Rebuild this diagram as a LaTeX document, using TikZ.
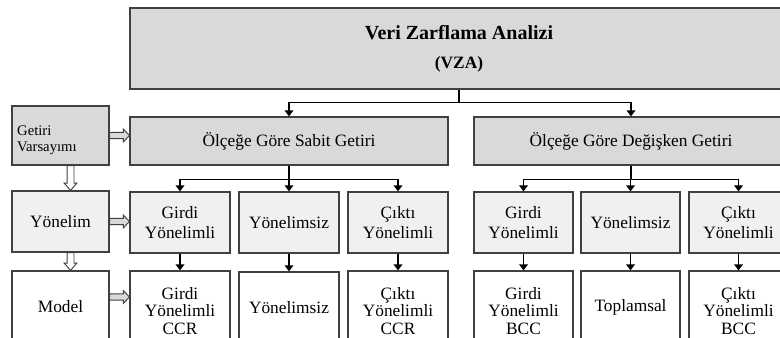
\documentclass[tikz,border=0pt]{standalone}
\usepackage{fontspec}
\setmainfont{Liberation Serif}
\usetikzlibrary{arrows.meta,positioning,calc}

\definecolor{headgray}{HTML}{D9D9D9}
\definecolor{subgray}{HTML}{F0F0F0}
\definecolor{rim}{HTML}{404040}

\tikzset{
	box/.style={draw=rim, line width=0.9pt, inner sep=0pt, align=center},
	headbox/.style={box, fill=headgray, font=\fontsize{13}{14.5}\selectfont},
	subbox/.style={box, fill=subgray, font=\fontsize{13}{14.5}\selectfont},
	leafbox/.style={box, fill=white, font=\fontsize{13}{13}\selectfont},
	arr/.style={line width=1pt, -{Triangle[length=4.5pt,width=6.5pt]}},
	fatarrow/.style={draw=rim, line width=0.7pt, fill=headgray, line join=miter}
}

% kalin ok: yatay ve dikey
\newcommand{\fatright}[2]{\draw[fatarrow] let \p1=(#1), \p2=(#2) in
	(\x1,\y1+2.4pt) -- (\x2-4.5pt,\y1+2.4pt) -- (\x2-4.5pt,\y1+4.8pt) -- (\x2,\y1)
	-- (\x2-4.5pt,\y1-4.8pt) -- (\x2-4.5pt,\y1-2.4pt) -- (\x1,\y1-2.4pt) -- cycle;}
\newcommand{\fatdown}[2]{\draw[fatarrow, fill=white] let \p1=(#1), \p2=(#2) in
	(\x1-2.6pt,\y1) -- (\x1-2.6pt,\y2+5.5pt) -- (\x1-4.8pt,\y2+5.5pt) -- (\x1,\y2)
	-- (\x1+4.8pt,\y2+5.5pt) -- (\x1+2.6pt,\y2+5.5pt) -- (\x1+2.6pt,\y1) -- cycle;}

\begin{document}
\begin{tikzpicture}[x=0.75pt, y=-0.75pt]
	\clip (0,0) rectangle (780,338);
	
	% ust kutu
	\node[headbox, minimum width=493.5pt, minimum height=60.75pt, font=\bfseries] (vza) at (459,48.5)
		{{\fontsize{15}{24}\selectfont Veri Zarflama Analizi}\\[9.5pt]{\fontsize{13}{15}\selectfont (VZA)}};
	
	% getiri varsayimi
	\node[headbox, minimum width=72.75pt, minimum height=44.25pt, text width=65pt, align=left,
		font=\fontsize{11}{12}\selectfont] (gv) at (60.5,135.5) {\rule{0pt}{14pt}Getiri\\Varsayımı};
	\node[headbox, minimum width=238.5pt, minimum height=36pt] (osg) at (289,141) {Ölçeğe Göre Sabit Getiri};
	\node[headbox, minimum width=235.5pt, minimum height=36pt] (odg) at (631,141) {Ölçeğe Göre Değişken Getiri};
	
	% yonelim
	\node[subbox, minimum width=72.75pt, minimum height=45.75pt] (yon) at (60.5,221.5) {Yönelim};
	\node[subbox, minimum width=75pt, minimum height=45.75pt] (gy1) at (180,222.5) {Girdi\\Yönelimli};
	\node[subbox, minimum width=75pt, minimum height=45.75pt] (ys1) at (289,222.5) {Yönelimsiz};
	\node[subbox, minimum width=75pt, minimum height=45.75pt] (cy1) at (398,222.5) {Çıktı\\Yönelimli};
	\node[subbox, minimum width=74.25pt, minimum height=45.75pt] (gy2) at (523.5,222.5) {Girdi\\Yönelimli};
	\node[subbox, minimum width=74.25pt, minimum height=45.75pt] (ys2) at (630.5,222.5) {Yönelimsiz};
	\node[subbox, minimum width=74.25pt, minimum height=45.75pt] (cy2) at (738.5,222.5) {Çıktı\\Yönelimli};
	
	% model
	\node[leafbox, minimum width=72.75pt, minimum height=54pt] (mdl) at (60.5,307) {Model};
	\node[leafbox, minimum width=75pt, minimum height=60pt] (gccr) at (180,311) {Girdi\\Yönelimli\\CCR};
	\node[leafbox, minimum width=75pt, minimum height=54pt] (yccr) at (289,308) {Yönelimsiz};
	\node[leafbox, minimum width=75pt, minimum height=60pt] (cccr) at (398,311) {Çıktı\\Yönelimli\\CCR};
	\node[leafbox, minimum width=74.25pt, minimum height=60pt] (gbcc) at (523.5,311) {Girdi\\Yönelimli\\BCC};
	\node[leafbox, minimum width=74.25pt, minimum height=54pt] (tbcc) at (630.5,307) {Toplamsal};
	\node[leafbox, minimum width=74.25pt, minimum height=60pt] (cbcc) at (738.5,311) {Çıktı\\Yönelimli\\BCC};
	
	% baglantilar
	\coordinate (vzaj) at ($(vza.south)+(0,13)$);
	\draw[line width=1pt] (vza.south) -- (vzaj);
	\draw[arr] (vzaj) -| (osg.north);
	\draw[arr] (vzaj) -| (odg.north);
	
	\coordinate (osgj) at ($(osg.south)+(0,14)$);
	\draw[line width=1pt] (osg.south) -- (osgj);
	\foreach \n in {gy1,ys1,cy1}
		\draw[arr] (osgj) -| (\n.north);
	
	\coordinate (odgj) at ($(odg.south)+(0,14)$);
	\draw[line width=1pt] (odg.south) -- (odgj);
	\foreach \n in {gy2,ys2,cy2}
		\draw[arr] (odgj) -| (\n.north);
	
	\draw[arr] (gy1) -- (gccr);
	\draw[arr] (ys1) -- (yccr);
	\draw[arr] (cy1) -- (cccr);
	\draw[arr] (gy2) -- (gbcc);
	\draw[arr] (ys2) -- (tbcc);
	\draw[arr] (cy2) -- (cbcc);
	
	% kalin oklar
	\fatright{gv.east}{osg.west |- gv.east}
	\fatright{yon.east}{gy1.west |- yon.east}
	\coordinate (mdla) at ($(mdl.east)+(0,-10)$);
	\fatright{mdla}{gccr.west |- mdla}
	\coordinate (gva) at ($(gv.south)+(10,0)$);
	\fatdown{gva}{gva |- yon.north}
	\coordinate (yona) at ($(yon.south)+(10,0)$);
	\fatdown{yona}{yona |- mdl.north}
	
\end{tikzpicture}
\end{document}
